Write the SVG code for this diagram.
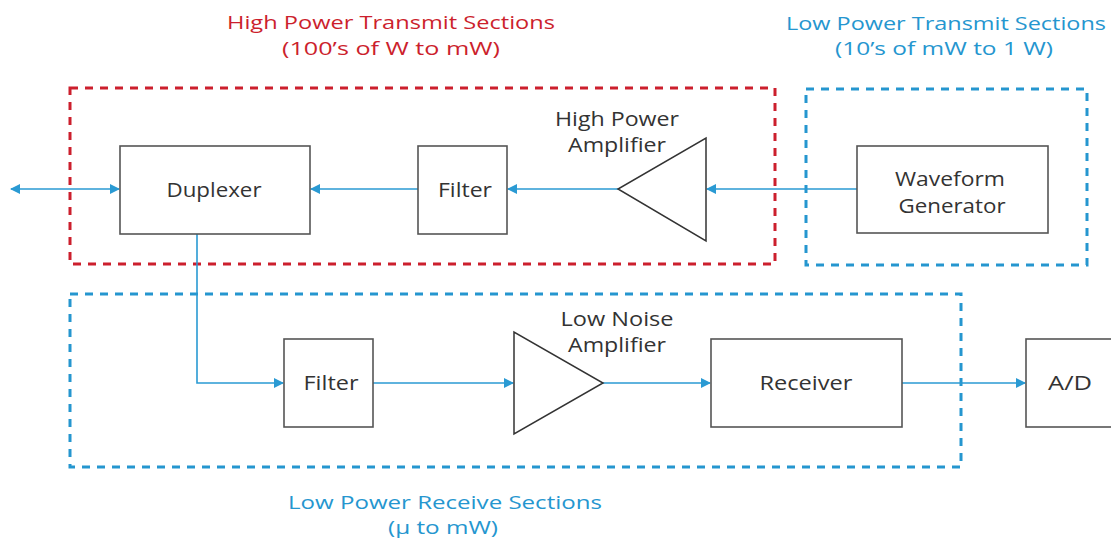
<svg xmlns="http://www.w3.org/2000/svg" width="1111" height="539" viewBox="0 0 1111 539">
<style>
.box{fill:#fff;stroke:#555;stroke-width:1.6}
.tri{fill:#fff;stroke:#333;stroke-width:1.5}
.lbl{font-family:"Open Sans","DejaVu Sans",sans-serif;font-size:20px;fill:#333;text-anchor:middle}
.ttl{font-family:"Open Sans","DejaVu Sans",sans-serif;font-size:19px;text-anchor:middle}
.red{fill:#cc1f2d}
.blu{fill:#2596cf}
.conn{fill:none;stroke:#2a9ad3;stroke-width:1.6}
.dashR{fill:none;stroke:#cc1f2d;stroke-width:3;stroke-dasharray:8 7}
.dashB{fill:none;stroke:#2596cf;stroke-width:3;stroke-dasharray:8 7}
</style>
<defs>
<marker id="ah" markerWidth="10" markerHeight="10" refX="9" refY="5" orient="auto-start-reverse" markerUnits="userSpaceOnUse">
<path d="M0,0 L10,5 L0,10 Z" fill="#2a9ad3"/>
</marker>
</defs>
<g id="sections">
<rect class="dashR" x="70" y="88" width="705" height="176"/>
<rect class="dashB" x="806" y="89" width="281" height="176"/>
<rect class="dashB" x="70" y="294" width="891" height="173"/>
<text class="ttl red" x="391" y="29" textLength="328" lengthAdjust="spacingAndGlyphs">High Power Transmit Sections</text>
<text class="ttl red" x="391" y="55" textLength="218" lengthAdjust="spacingAndGlyphs">(100’s of W to mW)</text>
<text class="ttl blu" x="946" y="30" textLength="320" lengthAdjust="spacingAndGlyphs">Low Power Transmit Sections</text>
<text class="ttl blu" x="944" y="55" textLength="218" lengthAdjust="spacingAndGlyphs">(10’s of mW to 1 W)</text>
<text class="ttl blu" x="445" y="509" textLength="314" lengthAdjust="spacingAndGlyphs">Low Power Receive Sections</text>
<text class="ttl blu" x="443" y="534" textLength="110" lengthAdjust="spacingAndGlyphs">(µ to mW)</text>
</g>
<g id="connectors">
<line class="conn" x1="11" y1="189" x2="119" y2="189" marker-start="url(#ah)" marker-end="url(#ah)"/>
<line class="conn" x1="418" y1="189" x2="311" y2="189" marker-end="url(#ah)"/>
<line class="conn" x1="618" y1="189" x2="508" y2="189" marker-end="url(#ah)"/>
<line class="conn" x1="857" y1="189" x2="707" y2="189" marker-end="url(#ah)"/>
<polyline class="conn" points="197,234 197,383 283,383" marker-end="url(#ah)"/>
<line class="conn" x1="373" y1="383" x2="513" y2="383" marker-end="url(#ah)"/>
<line class="conn" x1="603" y1="383" x2="710" y2="383" marker-end="url(#ah)"/>
<line class="conn" x1="902" y1="383" x2="1025" y2="383" marker-end="url(#ah)"/>
</g>
<g id="duplexer">
<rect class="box" x="120" y="146" width="190" height="88"/>
<text class="lbl" x="214" y="197" textLength="95" lengthAdjust="spacingAndGlyphs">Duplexer</text>
</g>
<g id="filter-tx">
<rect class="box" x="418" y="146" width="89" height="88"/>
<text class="lbl" x="465" y="197" textLength="54" lengthAdjust="spacingAndGlyphs">Filter</text>
</g>
<g id="hpa">
<polygon class="tri" points="706,138 706,241 618,189"/>
<text class="lbl" x="617" y="126" textLength="124" lengthAdjust="spacingAndGlyphs">High Power</text>
<text class="lbl" x="617" y="152" textLength="98" lengthAdjust="spacingAndGlyphs">Amplifier</text>
</g>
<g id="waveform">
<rect class="box" x="857" y="146" width="191" height="87"/>
<text class="lbl" x="950" y="186" textLength="110" lengthAdjust="spacingAndGlyphs">Waveform</text>
<text class="lbl" x="952" y="213" textLength="107" lengthAdjust="spacingAndGlyphs">Generator</text>
</g>
<g id="filter-rx">
<rect class="box" x="284" y="339" width="89" height="88"/>
<text class="lbl" x="331" y="390" textLength="55" lengthAdjust="spacingAndGlyphs">Filter</text>
</g>
<g id="lna">
<polygon class="tri" points="514,332 514,434 603,383"/>
<text class="lbl" x="617" y="326" textLength="113" lengthAdjust="spacingAndGlyphs">Low Noise</text>
<text class="lbl" x="617" y="352" textLength="98" lengthAdjust="spacingAndGlyphs">Amplifier</text>
</g>
<g id="receiver">
<rect class="box" x="711" y="339" width="191" height="88"/>
<text class="lbl" x="806" y="390" textLength="93" lengthAdjust="spacingAndGlyphs">Receiver</text>
</g>
<g id="ad">
<rect class="box" x="1026" y="339" width="100" height="88"/>
<text class="lbl" x="1070" y="390" textLength="44" lengthAdjust="spacingAndGlyphs">A/D</text>
</g>
</svg>
